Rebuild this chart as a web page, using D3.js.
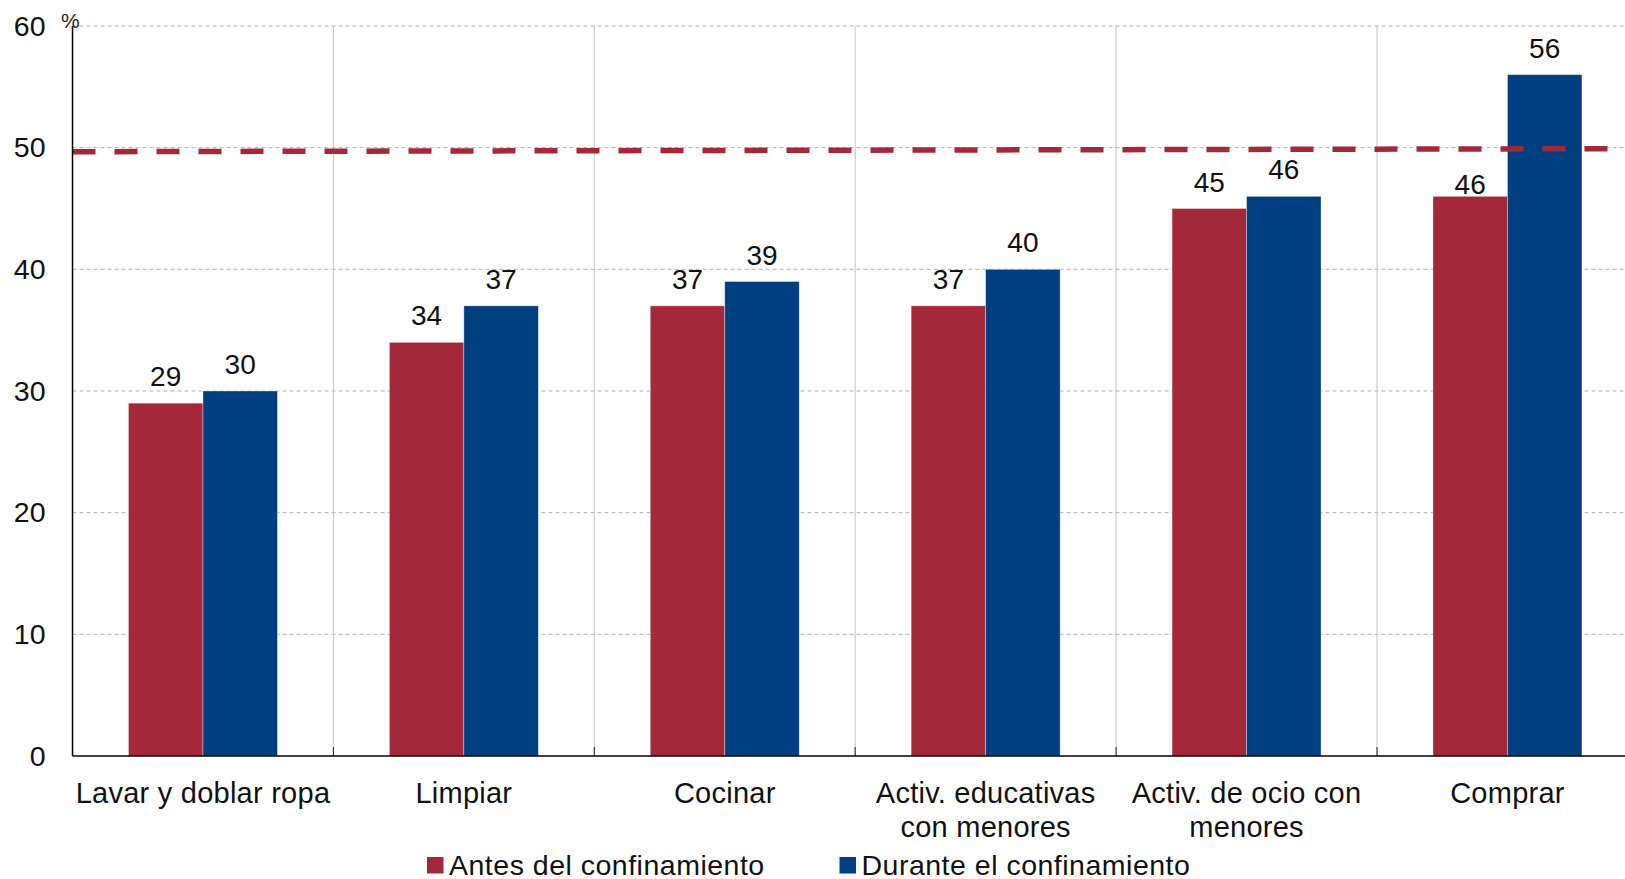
<!DOCTYPE html>
<html><head><meta charset="utf-8">
<script src="https://cdn.jsdelivr.net/npm/d3@7"></script>
<style>body{margin:0;background:#fff}svg{display:block;font-family:"Liberation Sans",Arial,Helvetica,sans-serif}</style>
</head><body>
<svg id="c" width="1625" height="879"></svg>
<script>
const categories = [["Lavar y doblar ropa"],["Limpiar"],["Cocinar"],["Activ. educativas","con menores"],["Activ. de ocio con","menores"],["Comprar"]];
const catKeys = categories.map(d=>d.join(" "));
const seriesNames = ["Antes del confinamiento","Durante el confinamiento"];
const antes = [29,34,37,37,45,46];
const durante = [30,37,39,40,46,56];
const yTicks = [0,10,20,30,40,50,60];
const refLine = [49.75, 50];
const colors = ["#A3293A","#003F7F"];

const svg = d3.select("#c");
const mLeft = 72.5, mTop = 26, mBottom = 756, bandW = 260.9;
const x = d3.scaleBand().domain(catKeys).range([mLeft, mLeft + 6*bandW]).padding(0);
const y = d3.scaleLinear().domain([0,60]).range([mBottom, mTop]);
const inner = d3.scaleBand().domain(seriesNames).range([55.95, bandW-55.95]).padding(0);
const plotRight = 1625;
const refY = xx => y(refLine[0]) + (y(refLine[1]) - y(refLine[0])) * (xx - mLeft) / (plotRight - mLeft) + 1;

// horizontal gridlines
svg.append("g").selectAll("line").data(yTicks.filter(d=>d>0)).join("line")
  .attr("x1", mLeft).attr("x2", plotRight).attr("y1", d=>y(d)).attr("y2", d=>y(d))
  .attr("stroke","#b0b0b0").attr("stroke-width",1).attr("stroke-dasharray","4,3");
// vertical separators
svg.append("g").selectAll("line").data(catKeys.slice(1)).join("line")
  .attr("x1", d=>x(d)).attr("x2", d=>x(d)).attr("y1", mTop).attr("y2", mBottom)
  .attr("stroke","#c4c4c4").attr("stroke-width",1);
svg.append("g").selectAll("line").data(catKeys.slice(1)).join("line")
  .attr("x1", d=>x(d)).attr("x2", d=>x(d)).attr("y1", mBottom-9).attr("y2", mBottom)
  .attr("stroke","#222").attr("stroke-width",1);

// bars
const data = catKeys.map((k,i)=>({k, vals:[antes[i], durante[i]]}));
const g = svg.append("g").selectAll("g").data(data).join("g").attr("transform", d=>`translate(${x(d.k)},0)`);
g.selectAll("rect").data(d=>d.vals.map((v,j)=>({v, s:seriesNames[j], j}))).join("rect")
  .attr("x", d=>inner(d.s)).attr("width", inner.bandwidth())
  .attr("y", d=>y(d.v)).attr("height", d=>mBottom - y(d.v))
  .attr("fill", d=>colors[d.j]).attr("stroke","rgba(255,255,255,0.45)").attr("stroke-width",0.8);
g.selectAll("text").data(d=>d.vals.map((v,j)=>({v, s:seriesNames[j], j, k:d.k, other:d.vals[1-j]}))).join("text")
  .attr("x", d=>inner(d.s)+inner.bandwidth()/2)
  .attr("y", d=>{
    const base = y(d.v)-17;
    const cx = x(d.k)+inner(d.s)+inner.bandwidth()/2;
    const ly = refY(cx);
    // label boxed in between the reference line and a taller neighbouring bar: sit tight on the bar
    if (base - 21 < ly + 12 && y(d.other) < ly) return y(d.v)-2;
    return base;
  })
  .attr("text-anchor","middle").attr("font-size",28).attr("fill","#111").text(d=>d.v);

// reference dashed line
svg.append("line").attr("x1", mLeft).attr("x2", plotRight)
  .attr("y1", refY(mLeft)).attr("y2", refY(plotRight))
  .attr("stroke", colors[0]).attr("stroke-width",5.5).attr("stroke-dasharray","23,19");

// axes
svg.append("line").attr("x1",mLeft).attr("x2",mLeft).attr("y1",mTop).attr("y2",mBottom).attr("stroke","#000").attr("stroke-width",1.5);
svg.append("line").attr("x1",mLeft).attr("x2",plotRight).attr("y1",mBottom).attr("y2",mBottom).attr("stroke","#000").attr("stroke-width",1.5);

const yAxis = d3.axisLeft(y).tickValues(yTicks).tickSize(0).tickPadding(27);
const ya = svg.append("g").attr("transform",`translate(${mLeft},0)`).call(yAxis);
ya.select(".domain").remove();
ya.selectAll("text").attr("font-size",28.5).attr("fill","#111").attr("font-family","Liberation Sans, Arial, sans-serif");

svg.append("text").attr("x",61).attr("y",28).attr("font-size",21).attr("fill","#222").text("%");

// x labels
const xl = svg.append("g").selectAll("text").data(categories).join("text")
  .attr("text-anchor","middle").attr("font-size",29).attr("letter-spacing",0.25).attr("fill","#111")
  .attr("transform",(d,i)=>`translate(${x(catKeys[i])+bandW/2},803)`);
xl.selectAll("tspan").data(d=>d).join("tspan").attr("x",0).attr("dy",(d,i)=>i?34:0).text(d=>d);

// legend
const legX = [427, 839.5];
const lg = svg.append("g").selectAll("g").data(seriesNames).join("g")
  .attr("transform",(d,i)=>`translate(${legX[i]},857)`);
lg.append("rect").attr("x",0).attr("y",0).attr("width",16.5).attr("height",16.5).attr("fill",(d,i)=>colors[i]);
lg.append("text").attr("x",22).attr("y",18).attr("font-size",28.5).attr("letter-spacing",0.5).attr("fill","#111").text(d=>d);
</script>
</body></html>
